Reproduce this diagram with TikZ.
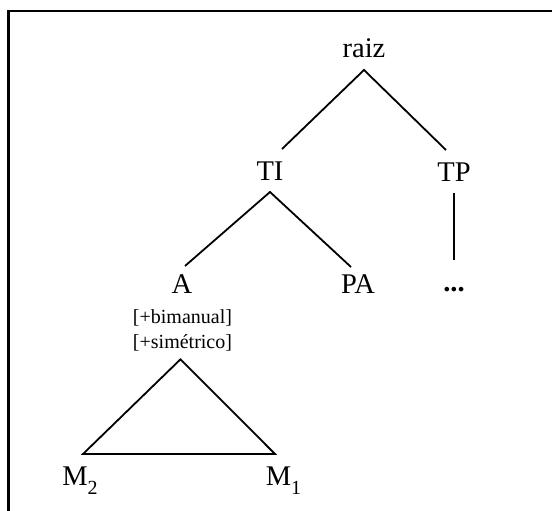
\documentclass[tikz,border=0pt]{standalone}
\usepackage{fontspec}
\setmainfont{Liberation Serif}
\newcommand\lowidx[1]{\raisebox{-9pt}{\fontsize{20}{20}\selectfont #1}}

\begin{document}
\begin{tikzpicture}[
    x=1pt, y=-1pt,
    cat/.style={anchor=base, inner sep=0pt, outer sep=12pt, text height=19pt, text depth=0pt, font=\fontsize{28.5}{28.5}\selectfont},
    feat/.style={align=center, inner sep=0pt, outer sep=8pt, font=\fontsize{20}{25}\selectfont},
    branch/.style={line width=1.8pt, line join=miter}
]
\useasboundingbox (0,0) rectangle (552,511);

% Frame
\draw[line width=2.5pt] (8.7,511) -- (8.7,11) -- (552,11);

% Root
\node[cat] (raiz) at (364,58) {raiz};

% Second level
\node[cat] (TI) at (270,180) {TI};
\node[cat] (TP) at (454,181) {TP};

\draw[branch] ([xshift=12pt]TI.north) -- (raiz.south) -- ([xshift=-8pt]TP.north);

% Third level
\node[cat] (A) at (182,293) {A};
\node[cat] (PA) at (358,293) {PA};
\node[cat] (dots) at (454,291) {\textbf{...}};

\draw[branch] ([xshift=3pt, yshift=-4pt]A.north) -- (TI.south) -- ([xshift=-7pt, yshift=-5pt]PA.north);
\draw[branch] (TP.south) -- (dots.north);

% Features of A
\node[feat] (feats) at (182.5,330.5) {{[}+bimanual]\\{[}+simétrico]};

% Hands
\node[cat] (M2) at (80,485) {M\lowidx{2}};
\node[cat] (M1) at (283.5,485) {M\lowidx{1}};

\draw[branch] ([xshift=-2pt]feats.south) -- ([xshift=3pt]M2.north) -- ([xshift=-8.5pt]M1.north) -- cycle;

\end{tikzpicture}
\end{document}
